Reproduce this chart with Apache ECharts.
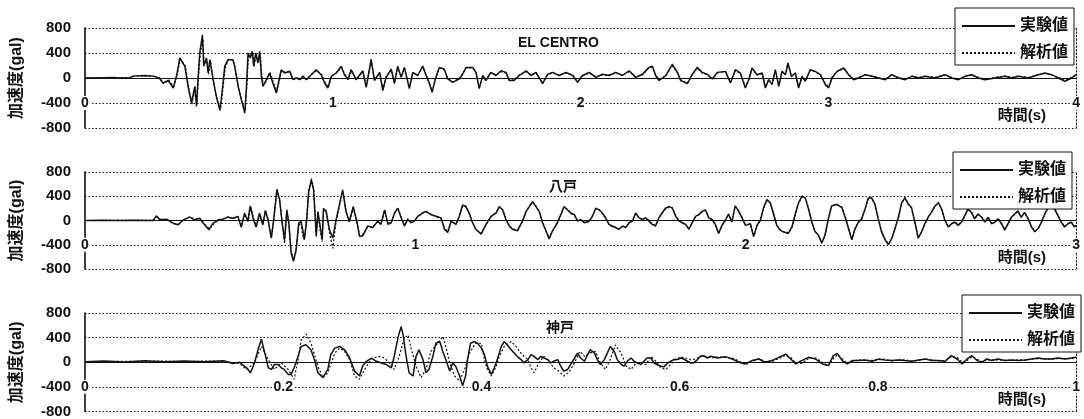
<!DOCTYPE html>
<html><head><meta charset="utf-8">
<script src="https://cdn.jsdelivr.net/npm/echarts@6/dist/echarts.min.js"></script>
<style>html,body{margin:0;padding:0;background:#fff}#c{width:1084px;height:419px}</style>
</head><body><div id="c"></div>
<script>
const seriesNames = ['実験値', '解析値'];
const panelTitles = ['EL CENTRO', '八戸', '神戸'];
const yAxisName = '加速度(gal)';
const xAxisName = '時間(s)';
const xMaxes = [4, 3, 1];
const xSteps = [1, 1, 0.2];
const yRange = [-800, 800];
const yStep = 400;

// EL CENTRO (time s, acceleration gal)
const elExp = [[0,0],[0.10,5],[0.18,0],[0.195,30],[0.24,40],[0.275,30],[0.30,0],[0.315,-80],[0.336,-40],[0.356,-160],[0.369,27],[0.383,320],[0.403,187],[0.416,-133],[0.43,-400],[0.443,-133],[0.45,-453],[0.456,-27],[0.463,400],[0.474,690],[0.479,187],[0.49,320],[0.497,80],[0.504,293],[0.517,-27],[0.53,-293],[0.544,-507],[0.55,-347],[0.564,187],[0.577,293],[0.597,293],[0.604,187],[0.618,-133],[0.631,-347],[0.645,-560],[0.651,-187],[0.658,400],[0.667,320],[0.675,427],[0.681,187],[0.689,400],[0.698,240],[0.705,427],[0.712,27],[0.718,-133],[0.732,-27],[0.745,80],[0.758,-80],[0.772,-240],[0.792,133],[0.806,80],[0.826,107],[0.839,-27],[0.853,0],[0.866,-27],[0.879,27],[0.893,-27],[0.913,53],[0.933,133],[0.953,53],[0.967,-80],[0.98,-160],[0.994,27],[1.014,80],[1.034,187],[1.047,53],[1.061,-27],[1.074,133],[1.094,-27],[1.121,115],[1.135,-150],[1.155,300],[1.168,-40],[1.189,90],[1.202,-200],[1.215,10],[1.236,140],[1.249,-90],[1.262,190],[1.276,10],[1.289,170],[1.309,-170],[1.323,90],[1.343,40],[1.363,190],[1.377,40],[1.39,-90],[1.401,-230],[1.414,-15],[1.43,170],[1.45,140],[1.464,-15],[1.484,-70],[1.511,-15],[1.524,60],[1.538,170],[1.565,170],[1.578,90],[1.591,-170],[1.605,40],[1.618,-40],[1.638,90],[1.659,40],[1.679,115],[1.699,90],[1.712,-40],[1.732,-40],[1.753,40],[1.78,115],[1.8,40],[1.82,90],[1.847,-90],[1.867,60],[1.887,90],[1.914,40],[1.941,90],[1.968,40],[1.988,-70],[2.008,40],[2.035,90],[2.062,10],[2.088,60],[2.115,40],[2.142,90],[2.169,40],[2.196,115],[2.223,10],[2.25,60],[2.276,170],[2.29,190],[2.303,40],[2.317,-40],[2.344,40],[2.37,220],[2.391,90],[2.404,-40],[2.431,-90],[2.451,60],[2.471,170],[2.491,90],[2.511,60],[2.532,-15],[2.552,90],[2.585,106],[2.605,-80],[2.625,133],[2.645,80],[2.665,-160],[2.679,-27],[2.692,160],[2.712,53],[2.733,80],[2.746,-160],[2.759,-27],[2.773,-106],[2.786,133],[2.8,-133],[2.813,106],[2.827,53],[2.837,240],[2.851,27],[2.867,80],[2.88,-160],[2.894,27],[2.907,-53],[2.927,133],[2.947,106],[2.968,53],[2.988,-106],[3.001,-160],[3.015,0],[3.035,106],[3.062,160],[3.082,53],[3.102,-27],[3.122,0],[3.149,53],[3.176,27],[3.203,0],[3.23,-27],[3.256,53],[3.283,0],[3.31,-27],[3.337,27],[3.364,0],[3.391,27],[3.431,0],[3.471,53],[3.498,0],[3.525,-27],[3.552,27],[3.579,53],[3.606,0],[3.632,-27],[3.673,0],[3.713,27],[3.74,0],[3.767,27],[3.807,0],[3.847,53],[3.874,80],[3.901,53],[3.928,0],[3.955,-53],[3.982,0],[4.0,53]];
const elAna = [[0,0],[0.10,10],[0.18,5],[0.2,35],[0.24,30],[0.28,25],[0.30,-10],[0.318,-90],[0.338,-30],[0.358,-140],[0.371,40],[0.385,300],[0.405,200],[0.418,-150],[0.432,-420],[0.445,-150],[0.452,-380],[0.458,0],[0.466,420],[0.476,620],[0.481,220],[0.492,300],[0.499,60],[0.506,280],[0.519,-60],[0.532,-330],[0.546,-520],[0.553,-300],[0.566,160],[0.58,310],[0.598,280],[0.606,170],[0.62,-150],[0.633,-380],[0.646,-520],[0.653,-150],[0.66,380],[0.669,340],[0.677,410],[0.683,200],[0.691,380],[0.7,260],[0.707,400],[0.714,40],[0.72,-120],[0.734,-40],[0.747,90],[0.76,-70],[0.774,-220],[0.794,120],[0.808,90],[0.828,100],[0.84,-20],[0.855,10],[0.868,-30],[0.88,30],[0.895,-20],[0.915,60],[0.935,120],[0.955,60],[0.969,-70],[0.982,-150],[0.996,30],[1.016,90],[1.036,170],[1.049,60],[1.063,-20],[1.076,120],[1.096,-30],[1.121,100],[1.135,-130],[1.155,270],[1.168,-30],[1.189,80],[1.202,-180],[1.215,20],[1.236,130],[1.249,-80],[1.262,180],[1.276,20],[1.289,160],[1.309,-150],[1.323,80],[1.343,50],[1.363,180],[1.377,50],[1.39,-80],[1.401,-210],[1.414,-20],[1.43,160],[1.45,130],[1.464,-10],[1.484,-60],[1.511,-10],[1.524,70],[1.538,160],[1.565,160],[1.578,80],[1.591,-150],[1.605,30],[1.618,-30],[1.638,80],[1.659,50],[1.679,100],[1.699,80],[1.712,-30],[1.732,-30],[1.753,50],[1.78,100],[1.8,50],[1.82,80],[1.847,-80],[1.867,50],[1.887,80],[1.914,50],[1.941,80],[1.968,50],[1.988,-60],[2.008,30],[2.035,80],[2.062,20],[2.088,50],[2.115,50],[2.142,80],[2.169,50],[2.196,100],[2.223,20],[2.25,50],[2.276,160],[2.29,170],[2.303,50],[2.317,-30],[2.344,30],[2.37,200],[2.391,80],[2.404,-30],[2.431,-80],[2.451,50],[2.471,160],[2.491,80],[2.511,50],[2.532,-10],[2.552,80],[2.585,100],[2.605,-70],[2.625,120],[2.645,70],[2.665,-140],[2.679,-20],[2.692,150],[2.712,50],[2.733,70],[2.746,-140],[2.759,-20],[2.773,-90],[2.786,120],[2.8,-120],[2.813,100],[2.827,50],[2.837,220],[2.851,30],[2.867,70],[2.88,-140],[2.894,20],[2.907,-40],[2.927,120],[2.947,100],[2.968,50],[2.988,-90],[3.001,-140],[3.015,10],[3.035,100],[3.062,150],[3.082,50],[3.102,-20],[3.122,10],[3.149,50],[3.176,30],[3.203,0],[3.23,-20],[3.256,50],[3.283,10],[3.31,-20],[3.337,30],[3.364,10],[3.391,30],[3.431,10],[3.471,50],[3.498,10],[3.525,-20],[3.552,30],[3.579,50],[3.606,10],[3.632,-20],[3.673,10],[3.713,30],[3.74,10],[3.767,30],[3.807,10],[3.847,50],[3.874,70],[3.901,50],[3.928,10],[3.955,-40],[3.982,10],[4.0,50]];

// 八戸 (Hachinohe)
const hcExp = [[0,0],[0.05,5],[0.1,0],[0.15,5],[0.206,0],[0.216,77],[0.226,11],[0.247,22],[0.267,-44],[0.282,-71],[0.297,11],[0.317,55],[0.332,11],[0.347,38],[0.362,-71],[0.375,-153],[0.388,-44],[0.403,11],[0.418,22],[0.433,55],[0.448,38],[0.463,66],[0.473,-110],[0.483,120],[0.493,-16],[0.5,240],[0.51,11],[0.518,-110],[0.528,120],[0.538,-71],[0.546,165],[0.554,11],[0.564,-290],[0.571,11],[0.581,515],[0.589,340],[0.597,-44],[0.604,-318],[0.611,175],[0.617,-44],[0.624,-537],[0.631,-674],[0.639,-482],[0.647,-44],[0.654,-16],[0.659,-153],[0.664,-318],[0.671,11],[0.677,477],[0.685,668],[0.692,504],[0.7,-263],[0.705,148],[0.712,-99],[0.718,-318],[0.722,200],[0.73,148],[0.74,-153],[0.75,-290],[0.76,11],[0.77,258],[0.78,504],[0.79,148],[0.8,-16],[0.812,230],[0.823,-16],[0.831,-263],[0.841,-250],[0.856,-90],[0.871,-117],[0.886,-11],[0.896,-64],[0.907,176],[0.917,-64],[0.927,-37],[0.937,123],[0.947,203],[0.957,43],[0.967,-90],[0.977,16],[0.987,-37],[0.997,-11],[1.007,69],[1.022,123],[1.032,150],[1.047,96],[1.063,69],[1.078,43],[1.088,-144],[1.098,-197],[1.108,-11],[1.123,-64],[1.133,69],[1.143,256],[1.153,230],[1.163,123],[1.173,-37],[1.183,-144],[1.199,-224],[1.214,-64],[1.229,69],[1.244,123],[1.254,230],[1.264,176],[1.274,16],[1.284,-90],[1.294,-144],[1.309,-170],[1.324,-11],[1.335,150],[1.345,230],[1.355,309],[1.365,230],[1.375,150],[1.385,-37],[1.395,-170],[1.405,-304],[1.415,-170],[1.43,-37],[1.44,96],[1.45,230],[1.46,176],[1.47,123],[1.481,96],[1.491,-11],[1.501,16],[1.511,-37],[1.526,-11],[1.536,69],[1.546,203],[1.556,176],[1.566,123],[1.576,43],[1.586,-64],[1.596,-90],[1.606,-117],[1.616,-144],[1.627,-90],[1.637,-117],[1.647,-37],[1.657,-11],[1.667,123],[1.677,43],[1.687,16],[1.697,43],[1.707,-11],[1.717,-64],[1.727,-90],[1.737,43],[1.747,123],[1.757,203],[1.768,230],[1.778,203],[1.788,69],[1.798,-11],[1.808,-37],[1.818,-64],[1.828,-144],[1.838,-37],[1.848,69],[1.858,96],[1.868,150],[1.878,176],[1.888,43],[1.898,16],[1.908,-64],[1.918,-213],[1.928,-80],[1.938,0],[1.948,107],[1.958,-27],[1.968,240],[1.978,160],[1.988,53],[1.999,-80],[2.014,-53],[2.024,-267],[2.034,-80],[2.044,0],[2.054,213],[2.064,347],[2.074,293],[2.084,107],[2.094,-80],[2.104,-160],[2.114,-187],[2.129,-213],[2.14,-107],[2.15,107],[2.16,293],[2.17,400],[2.18,373],[2.19,187],[2.2,-27],[2.21,-187],[2.22,-240],[2.23,-373],[2.24,-240],[2.25,27],[2.26,240],[2.275,267],[2.291,213],[2.301,53],[2.311,-133],[2.321,-320],[2.331,-133],[2.341,-27],[2.351,27],[2.361,187],[2.371,373],[2.381,373],[2.391,267],[2.401,27],[2.411,-187],[2.422,-320],[2.432,-400],[2.442,-293],[2.452,-133],[2.462,53],[2.472,293],[2.482,373],[2.492,267],[2.502,213],[2.512,-27],[2.522,-293],[2.532,-187],[2.542,-53],[2.552,53],[2.562,133],[2.573,240],[2.583,293],[2.593,187],[2.603,0],[2.613,-107],[2.623,-53],[2.633,-27],[2.643,-80],[2.653,-27],[2.663,80],[2.673,187],[2.683,133],[2.693,27],[2.703,107],[2.714,53],[2.724,-27],[2.734,53],[2.744,-53],[2.754,-27],[2.764,27],[2.774,-53],[2.784,-160],[2.794,-53],[2.804,53],[2.814,107],[2.824,160],[2.834,53],[2.844,133],[2.855,27],[2.865,-107],[2.875,-187],[2.885,-133],[2.895,-27],[2.905,107],[2.915,213],[2.925,240],[2.935,187],[2.945,80],[2.955,-27],[2.965,-107],[2.975,-53],[2.985,-27],[2.995,-107],[3.0,-80]];
const hcAna = [[0,0],[0.05,0],[0.1,5],[0.15,0],[0.206,5],[0.218,60],[0.228,20],[0.247,10],[0.267,-50],[0.284,-60],[0.297,0],[0.317,60],[0.332,20],[0.347,30],[0.362,-60],[0.377,-140],[0.39,-50],[0.403,0],[0.418,30],[0.433,60],[0.448,30],[0.463,70],[0.474,-90],[0.484,110],[0.494,0],[0.502,220],[0.511,20],[0.519,-100],[0.529,110],[0.539,-60],[0.546,150],[0.554,30],[0.564,-270],[0.571,-20],[0.581,480],[0.589,360],[0.597,-60],[0.604,-380],[0.611,140],[0.617,-60],[0.624,-500],[0.631,-640],[0.639,-500],[0.647,-80],[0.654,-40],[0.659,-250],[0.664,-300],[0.671,40],[0.677,450],[0.685,690],[0.692,530],[0.7,-200],[0.705,100],[0.712,-180],[0.718,-350],[0.722,150],[0.73,170],[0.74,-200],[0.75,-460],[0.76,-20],[0.77,230],[0.78,480],[0.79,170],[0.8,-30],[0.812,210],[0.823,-30],[0.831,-240],[0.841,-230],[0.856,-100],[0.871,-100],[0.886,-20],[0.896,-50],[0.907,160],[0.917,-50],[0.927,-20],[0.937,110],[0.947,210],[0.957,60],[0.967,-80],[0.977,30],[0.987,-20],[0.997,0],[1.007,60],[1.022,130],[1.032,140],[1.047,110],[1.063,60],[1.078,20],[1.088,-130],[1.098,-180],[1.108,-20],[1.123,-50],[1.133,80],[1.143,240],[1.153,240],[1.163,110],[1.173,-30],[1.183,-150],[1.199,-210],[1.214,-70],[1.229,60],[1.244,130],[1.254,220],[1.264,180],[1.274,30],[1.284,-80],[1.294,-140],[1.309,-160],[1.324,-20],[1.335,140],[1.345,240],[1.355,300],[1.365,240],[1.375,140],[1.385,-30],[1.395,-160],[1.405,-290],[1.415,-180],[1.43,-40],[1.44,90],[1.45,220],[1.46,190],[1.47,120],[1.481,90],[1.491,0],[1.501,10],[1.511,-30],[1.526,-20],[1.536,80],[1.546,190],[1.556,180],[1.566,110],[1.576,40],[1.586,-60],[1.596,-100],[1.606,-110],[1.616,-140],[1.627,-100],[1.637,-110],[1.647,-40],[1.657,0],[1.667,110],[1.677,50],[1.687,20],[1.697,40],[1.707,0],[1.717,-60],[1.727,-80],[1.737,40],[1.747,130],[1.757,190],[1.768,220],[1.778,210],[1.788,80],[1.798,0],[1.808,-40],[1.818,-70],[1.828,-130],[1.838,-40],[1.848,60],[1.858,100],[1.868,140],[1.878,170],[1.888,50],[1.898,10],[1.908,-70],[1.918,-200],[1.928,-90],[1.938,10],[1.948,100],[1.958,-20],[1.968,230],[1.978,170],[1.988,60],[1.999,-70],[2.014,-60],[2.024,-250],[2.034,-90],[2.044,10],[2.054,200],[2.064,330],[2.074,300],[2.084,120],[2.094,-70],[2.104,-150],[2.114,-190],[2.129,-200],[2.14,-110],[2.15,100],[2.16,280],[2.17,390],[2.18,380],[2.19,200],[2.2,-20],[2.21,-180],[2.22,-250],[2.23,-360],[2.24,-250],[2.25,20],[2.26,230],[2.275,270],[2.291,220],[2.301,60],[2.311,-120],[2.321,-300],[2.331,-140],[2.341,-30],[2.351,30],[2.361,180],[2.371,360],[2.381,380],[2.391,270],[2.401,40],[2.411,-170],[2.422,-310],[2.432,-390],[2.442,-300],[2.452,-140],[2.462,40],[2.472,280],[2.482,380],[2.492,280],[2.502,200],[2.512,-20],[2.522,-280],[2.532,-200],[2.542,-60],[2.552,50],[2.562,140],[2.573,230],[2.583,300],[2.593,190],[2.603,10],[2.613,-100],[2.623,-60],[2.633,-20],[2.643,-70],[2.653,-30],[2.663,70],[2.673,190],[2.683,140],[2.693,30],[2.703,100],[2.714,60],[2.724,-20],[2.734,50],[2.744,-50],[2.754,-30],[2.764,30],[2.774,-40],[2.784,-150],[2.794,-60],[2.804,50],[2.814,100],[2.824,150],[2.834,60],[2.844,130],[2.855,30],[2.865,-100],[2.875,-180],[2.885,-140],[2.895,-30],[2.905,100],[2.915,200],[2.925,240],[2.935,190],[2.945,90],[2.955,-20],[2.965,-100],[2.975,-60],[2.985,-20],[2.995,-100],[3.0,-70]];

// 神戸 (Kobe)
const kbExp = [[0,10],[0.02,20],[0.04,5],[0.06,25],[0.08,10],[0.1,20],[0.12,10],[0.14,25],[0.149,-21],[0.156,0],[0.163,-90],[0.167,-170],[0.171,-11],[0.175,229],[0.178,373],[0.181,176],[0.185,-90],[0.188,-117],[0.191,-37],[0.195,-37],[0.198,-90],[0.201,-117],[0.205,-197],[0.208,-197],[0.211,-90],[0.215,96],[0.218,256],[0.223,283],[0.228,203],[0.232,16],[0.235,-170],[0.24,-250],[0.245,-117],[0.248,123],[0.252,229],[0.257,256],[0.262,203],[0.267,69],[0.272,-144],[0.277,-224],[0.28,-64],[0.284,16],[0.289,69],[0.294,16],[0.299,-11],[0.304,-37],[0.309,-90],[0.312,96],[0.316,416],[0.319,576],[0.321,442],[0.324,96],[0.327,-170],[0.331,-224],[0.334,96],[0.337,203],[0.341,43],[0.344,-170],[0.347,-117],[0.351,96],[0.354,309],[0.358,336],[0.361,176],[0.364,43],[0.368,-144],[0.371,-11],[0.374,-64],[0.378,-224],[0.381,-384],[0.384,-224],[0.386,43],[0.389,309],[0.393,336],[0.396,309],[0.4,229],[0.403,123],[0.406,-64],[0.41,-197],[0.413,-90],[0.416,43],[0.42,256],[0.423,336],[0.426,283],[0.43,203],[0.433,149],[0.436,96],[0.44,43],[0.443,-11],[0.447,43],[0.45,123],[0.453,96],[0.457,43],[0.46,96],[0.463,69],[0.467,43],[0.47,-11],[0.473,16],[0.477,43],[0.48,-64],[0.483,-144],[0.487,-117],[0.49,-37],[0.494,69],[0.497,149],[0.5,69],[0.504,16],[0.507,123],[0.51,203],[0.514,149],[0.517,43],[0.52,-37],[0.524,43],[0.527,149],[0.53,256],[0.534,176],[0.537,43],[0.541,-37],[0.544,-64],[0.547,16],[0.551,69],[0.554,16],[0.557,-11],[0.561,-37],[0.564,16],[0.567,69],[0.571,69],[0.574,-11],[0.577,-37],[0.581,-64],[0.584,-75],[0.588,-11],[0.591,16],[0.594,43],[0.598,43],[0.601,69],[0.604,53],[0.608,16],[0.611,-11],[0.614,-11],[0.618,43],[0.621,96],[0.624,107],[0.628,69],[0.631,96],[0.635,85],[0.638,69],[0.646,91],[0.653,53],[0.66,0],[0.666,-27],[0.673,27],[0.68,53],[0.686,0],[0.693,27],[0.7,80],[0.707,133],[0.712,53],[0.717,-27],[0.723,27],[0.73,80],[0.737,53],[0.744,-27],[0.75,-53],[0.755,107],[0.759,144],[0.764,27],[0.769,-27],[0.774,27],[0.78,27],[0.787,37],[0.794,16],[0.801,53],[0.807,37],[0.814,27],[0.821,37],[0.827,27],[0.834,16],[0.841,37],[0.848,53],[0.854,27],[0.861,27],[0.868,16],[0.874,107],[0.88,53],[0.885,-27],[0.89,53],[0.895,107],[0.9,27],[0.905,0],[0.91,53],[0.915,27],[0.921,53],[0.928,27],[0.935,37],[0.942,27],[0.948,37],[0.955,53],[0.962,69],[0.968,53],[0.975,53],[0.982,69],[0.989,53],[0.995,69],[1.0,80]];
const kbAna = [[0,0],[0.02,10],[0.04,15],[0.06,10],[0.08,20],[0.1,5],[0.12,20],[0.14,10],[0.156,-20],[0.163,-117],[0.171,-11],[0.178,256],[0.185,43],[0.191,-117],[0.198,-11],[0.205,-117],[0.211,-277],[0.215,43],[0.218,362],[0.223,458],[0.228,309],[0.235,-64],[0.24,-250],[0.245,-170],[0.252,149],[0.257,229],[0.262,176],[0.267,43],[0.272,-224],[0.277,-277],[0.284,-64],[0.29,69],[0.297,96],[0.302,69],[0.307,-11],[0.312,-117],[0.317,96],[0.322,389],[0.326,442],[0.329,229],[0.334,-64],[0.339,-250],[0.344,-117],[0.349,176],[0.356,309],[0.361,416],[0.364,256],[0.368,-11],[0.373,-224],[0.378,-304],[0.383,-117],[0.388,149],[0.394,309],[0.4,309],[0.403,43],[0.406,-117],[0.41,-224],[0.415,-64],[0.418,96],[0.423,256],[0.43,336],[0.435,256],[0.441,123],[0.447,43],[0.45,-90],[0.453,-170],[0.458,-11],[0.463,96],[0.468,16],[0.473,-90],[0.478,-144],[0.483,-224],[0.488,-170],[0.494,-11],[0.499,176],[0.504,96],[0.509,149],[0.515,176],[0.52,-11],[0.525,-117],[0.53,43],[0.535,283],[0.541,149],[0.546,-64],[0.551,-117],[0.556,-11],[0.561,-11],[0.566,-37],[0.571,96],[0.576,16],[0.581,-90],[0.586,-117],[0.591,-37],[0.596,53],[0.601,85],[0.606,69],[0.611,43],[0.616,53],[0.621,96],[0.626,96],[0.633,69],[0.638,85],[0.646,80],[0.653,70],[0.66,20],[0.666,-40],[0.673,10],[0.68,60],[0.686,10],[0.693,10],[0.7,60],[0.707,110],[0.712,80],[0.717,-10],[0.723,-20],[0.73,60],[0.737,70],[0.744,0],[0.75,-60],[0.755,60],[0.759,120],[0.764,60],[0.769,-20],[0.774,10],[0.78,40],[0.787,30],[0.794,30],[0.801,40],[0.807,50],[0.814,20],[0.821,40],[0.827,40],[0.834,20],[0.841,30],[0.848,50],[0.854,40],[0.861,20],[0.868,30],[0.874,90],[0.88,80],[0.885,0],[0.89,30],[0.895,90],[0.9,50],[0.905,10],[0.91,40],[0.915,40],[0.921,40],[0.928,30],[0.935,30],[0.942,40],[0.948,30],[0.955,50],[0.962,60],[0.968,60],[0.975,50],[0.982,60],[0.989,60],[0.995,60],[1.0,70]];

const expData = [elExp, hcExp, kbExp];
const anaData = [elAna, hcAna, kbAna];

// layout (pixels)
const gridTops = [28, 172, 313];
const gridHeights = [100, 97, 99];
const legendPos = [[955, 8], [953, 152], [962, 295]];
const titleLefts = [518, 549, 546];
const titleTops = [36, 180, 321];

const FONT = '"Liberation Sans", "Noto Sans CJK JP", sans-serif';
const black = '#111';

const grids = [], xAxes = [], yAxes = [], series = [], titles = [], legends = [];
for (let i = 0; i < 3; i++) {
  grids.push({ left: 85, right: 6, top: gridTops[i], height: gridHeights[i] });
  xAxes.push({
    gridIndex: i, type: 'value', min: 0, max: xMaxes[i], interval: xSteps[i],
    axisLine: { onZero: true, lineStyle: { color: black, width: 1.2 } },
    axisTick: { show: false }, splitLine: { show: false },
    axisLabel: {
      margin: -gridHeights[i] / 4, verticalAlign: 'middle', color: black,
      fontFamily: FONT, fontWeight: 'bold', fontSize: 14,
      backgroundColor: '#fff', padding: [0, 1],
      showMinLabel: true, showMaxLabel: true,
      formatter: v => String(+v.toFixed(1))
    },
    name: xAxisName, nameLocation: 'end', nameGap: -30,
    nameTextStyle: { align: 'right', verticalAlign: 'top', padding: [30, 0, 0, 0],
      color: black, fontFamily: FONT, fontWeight: 'bold', fontSize: 15 }
  });
  yAxes.push({
    gridIndex: i, type: 'value', min: yRange[0], max: yRange[1], interval: yStep,
    axisLine: { show: true, lineStyle: { color: black, width: 1.6 } },
    axisTick: { show: false },
    splitLine: { show: true, lineStyle: { color: black, type: [1.5, 2], width: 1 } },
    axisLabel: { color: black, fontFamily: FONT, fontWeight: 'bold', fontSize: 15, margin: 14 },
    name: yAxisName, nameLocation: 'middle', nameGap: 60, nameRotate: 90,
    nameTextStyle: { color: black, fontFamily: FONT, fontWeight: 'bold', fontSize: 16 }
  });
  titles.push({ text: panelTitles[i], left: titleLefts[i], top: titleTops[i], padding: 0,
    textStyle: { color: black, fontFamily: FONT, fontWeight: 'bold', fontSize: 14 } });
  legends.push({
    left: legendPos[i][0], top: legendPos[i][1], orient: 'vertical',
    data: seriesNames, itemWidth: 53, itemHeight: 14, itemGap: 11,
    padding: [10, 6, 4, 6], borderColor: black, borderWidth: 1, backgroundColor: '#fff',
    itemStyle: { opacity: 0 },
    textStyle: { color: black, fontFamily: FONT, fontWeight: 'bold', fontSize: 16, lineHeight: 16 }
  });
}
for (let i = 0; i < 3; i++) {
  yAxes.push({
    gridIndex: i, type: 'value', position: 'right', min: yRange[0], max: yRange[1], interval: yStep,
    axisLine: { show: true, lineStyle: { color: black, type: [1.5, 2], width: 1 } },
    axisTick: { show: false }, axisLabel: { show: false }, splitLine: { show: false }
  });
}
for (let i = 0; i < 3; i++) {
  series.push({
    name: seriesNames[1], type: 'line', xAxisIndex: i, yAxisIndex: i,
    data: anaData[i], symbol: 'none', smooth: false,
    itemStyle: { color: black },
    lineStyle: { color: black, width: 1.2, type: [2, 2] }
  });
  series.push({
    name: seriesNames[0], type: 'line', xAxisIndex: i, yAxisIndex: i,
    data: expData[i], symbol: 'none', smooth: false,
    itemStyle: { color: black },
    lineStyle: { color: black, width: 1.5, type: 'solid' }
  });
}

const chart = echarts.init(document.getElementById('c'), null, { renderer: 'canvas' });
chart.setOption({
  animation: false, backgroundColor: '#fff',
  title: titles, legend: legends, grid: grids, xAxis: xAxes, yAxis: yAxes, series: series
});
</script></body></html>
